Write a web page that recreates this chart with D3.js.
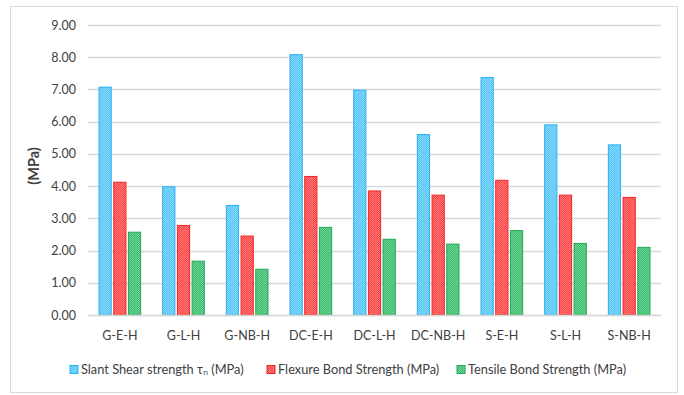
<!DOCTYPE html>
<html>
<head>
<meta charset="utf-8">
<script src="https://cdn.jsdelivr.net/npm/d3@7"></script>
<style>
  html, body { margin: 0; padding: 0; background: #fff; }
  svg text { font-family: Lato, "Open Sans", sans-serif; fill: #404040; }
</style>
</head>
<body>
<svg id="chart" width="684" height="395"></svg>
<script>
// Specimen groups along the x axis
const categories = ["G-E-H", "G-L-H", "G-NB-H", "DC-E-H", "DC-L-H", "DC-NB-H", "S-E-H", "S-L-H", "S-NB-H"];
// Measured strengths (MPa)
const slantShear = [7.07, 3.98, 3.40, 8.08, 6.98, 5.60, 7.37, 5.90, 5.28];
const flexureBond = [4.12, 2.78, 2.45, 4.30, 3.85, 3.72, 4.18, 3.72, 3.65];
const tensileBond = [2.57, 1.67, 1.42, 2.72, 2.35, 2.20, 2.62, 2.22, 2.10];
const seriesNames = ["Slant Shear strength  τ\u2099 (MPa)", "Flexure Bond Strength (MPa)", "Tensile Bond Strength (MPa)"];
const yTicks = [0, 1, 2, 3, 4, 5, 6, 7, 8, 9];

const series = [
  { name: seriesNames[0], values: slantShear, fill: "#55c5f6", dot: "#86d8fa", stroke: "#27b0f0" },
  { name: seriesNames[1], values: flexureBond, fill: "#ff4040", dot: "#ff7c7c", stroke: "#f02525" },
  { name: seriesNames[2], values: tensileBond, fill: "#36bb6b", dot: "#74d398", stroke: "#20a856" }
];

const svg = d3.select("#chart");

// Outer frame
svg.append("rect").attr("x", 10.5).attr("y", 6.5).attr("width", 667).attr("height", 386)
  .attr("fill", "#fff").attr("stroke", "#d9d9d9").attr("stroke-width", 1);

// Dotted fill patterns
const defs = svg.append("defs");
series.forEach((s, i) => {
  const p = defs.append("pattern").attr("id", "pat" + i)
    .attr("width", 2).attr("height", 2).attr("patternUnits", "userSpaceOnUse");
  p.append("rect").attr("width", 2).attr("height", 2).attr("fill", s.fill);
  p.append("rect").attr("width", 1).attr("height", 1).attr("fill", s.dot);
  p.append("rect").attr("x", 1).attr("y", 1).attr("width", 1).attr("height", 1).attr("fill", s.dot);
});

const plot = { left: 88, right: 661, top: 25, bottom: 315 };

const x = d3.scaleBand().domain(categories).range([plot.left, plot.right]).paddingInner(0.33).paddingOuter(0.165);
const xs = d3.scaleBand().domain(d3.range(series.length)).range([0, x.bandwidth()]).paddingInner(0.1);
const y = d3.scaleLinear().domain([0, 9]).range([plot.bottom, plot.top]);

// Gridlines
svg.append("g").selectAll("line").data(yTicks).join("line")
  .attr("x1", plot.left).attr("x2", plot.right)
  .attr("y1", d => Math.round(y(d)) + 0.5).attr("y2", d => Math.round(y(d)) + 0.5)
  .attr("stroke", "#d9d9d9").attr("stroke-width", 1.3);

// Y axis labels
const yAxis = d3.axisLeft(y).tickValues(yTicks).tickFormat(d3.format(".2f")).tickSize(0).tickPadding(12);
const yg = svg.append("g").attr("transform", `translate(${plot.left},0)`).call(yAxis);
yg.select(".domain").remove();
yg.selectAll("text").style("font-size", "12.5px").attr("fill", "#404040");

// Y axis title
svg.append("text").attr("transform", `translate(39,${(plot.top + plot.bottom) / 2 - 4}) rotate(-90)`)
  .attr("text-anchor", "middle").attr("font-size", "14.5px").attr("font-weight", "bold").text("(MPa)");

// Bars
series.forEach((s, i) => {
  svg.append("g").selectAll("rect").data(s.values).join("rect")
    .attr("x", (d, j) => x(categories[j]) + xs(i) + 0.5)
    .attr("y", d => y(d))
    .attr("width", xs.bandwidth() - 1)
    .attr("height", d => y(0) - y(d))
    .attr("fill", `url(#pat${i})`)
    .attr("stroke", s.stroke).attr("stroke-width", 1);
});

// X axis labels
const xAxis = d3.axisBottom(x).tickSize(0).tickPadding(16);
const xg = svg.append("g").attr("transform", `translate(0,${plot.bottom})`).call(xAxis);
xg.select(".domain").attr("stroke", "#d9d9d9").attr("stroke-width", 1.3);
xg.selectAll("text").style("font-size", "12.5px").attr("fill", "#404040");

// Legend
const legendX = [70, 267, 457];
const lg = svg.append("g").selectAll("g").data(series).join("g")
  .attr("transform", (d, i) => `translate(${legendX[i]},370)`);
lg.append("rect").attr("x", 0).attr("y", -4.5).attr("width", 8).attr("height", 8)
  .attr("fill", (d, i) => `url(#pat${i})`).attr("stroke", d => d.stroke);
lg.append("text").attr("x", 11).attr("y", 0).attr("dy", "0.35em")
  .attr("font-size", "12.8px").text(d => d.name);
</script>
</body>
</html>
